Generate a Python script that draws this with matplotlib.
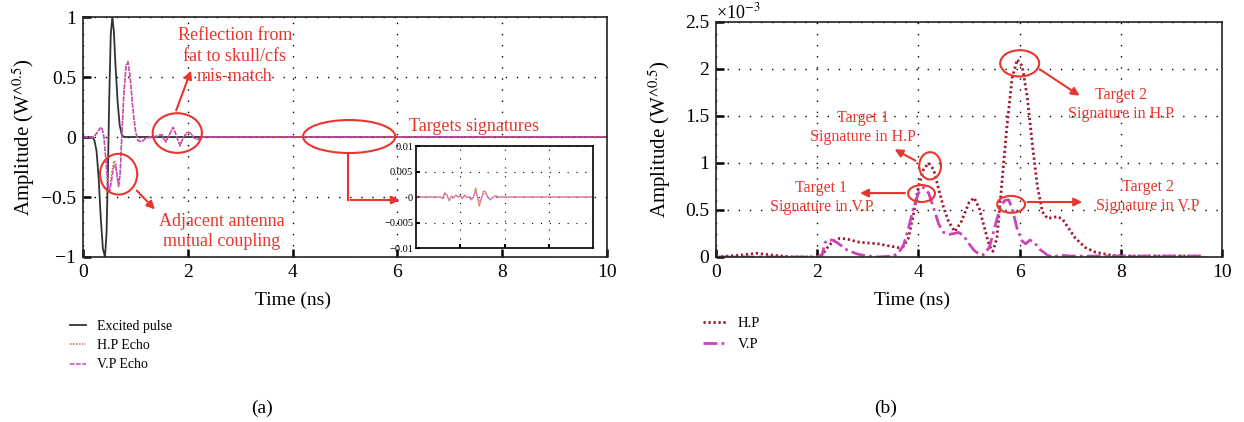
import matplotlib
matplotlib.use("Agg")
import matplotlib.pyplot as plt
from matplotlib.patches import Ellipse
from matplotlib.ticker import FuncFormatter

plt.rcParams['font.family'] = ['Liberation Serif', 'DejaVu Serif']
plt.rcParams['mathtext.fontset'] = 'stix'

RED = '#e8352d'
HP_A = '#c8643c'
VP_A = '#cc44cc'
HP_B = '#a01830'
VP_B = '#cc44bb'

# ---------- panel (a): time-domain pulses ----------
pulse_t = [0, 0.18, 0.22, 0.26, 0.30, 0.34, 0.38, 0.42, 0.45, 0.48, 0.50, 0.53,
           0.56, 0.59, 0.62, 0.66, 0.70, 0.74, 0.78, 10]
pulse_v = [0, 0, -0.03, -0.12, -0.35, -0.68, -0.93, -1.0, -0.8, -0.2, 0.3, 0.85,
           1.0, 0.88, 0.6, 0.3, 0.1, 0.02, 0, 0]

echo_t = [0, 0.2, 0.26, 0.32, 0.36, 0.40, 0.44, 0.48, 0.51, 0.55, 0.59, 0.62,
          0.65, 0.68, 0.71, 0.74, 0.78, 0.82, 0.86, 0.90, 0.95, 1.00, 1.05,
          1.12, 1.2, 1.3, 1.4, 1.5, 1.58, 1.65, 1.72, 1.79, 1.85, 1.92, 2.0,
          2.06, 2.12, 2.2, 2.3, 10]
hp_echo = [0, 0, 0.03, 0.07, 0.08, 0.0, -0.22, -0.42, -0.44, -0.30, -0.20, -0.21,
           -0.33, -0.42, -0.30, 0.0, 0.36, 0.60, 0.63, 0.50, 0.24, 0.05, -0.03,
           -0.04, -0.01, 0, 0.005, 0.025, -0.045, 0.02, 0.085, 0.0, -0.075, 0.0,
           0.045, 0.03, -0.01, -0.02, 0, 0]
vp_echo = [0, 0, 0.03, 0.07, 0.08, 0.0, -0.20, -0.40, -0.45, -0.35, -0.24, -0.23,
           -0.32, -0.40, -0.30, 0.0, 0.35, 0.58, 0.62, 0.50, 0.25, 0.06, -0.03,
           -0.04, -0.01, 0, 0.005, 0.02, -0.04, 0.02, 0.08, 0.0, -0.07, 0.0,
           0.04, 0.03, -0.01, -0.02, 0, 0]

# inset: zoom on target echoes
ins_t = [2, 3.1, 3.2, 3.3, 3.4, 3.5, 3.6, 3.7, 3.8, 3.9, 4.0, 4.1, 4.2, 4.3, 4.4,
         4.5, 4.6, 4.7, 4.78, 4.86, 4.95, 5.05, 5.15, 5.25, 5.35, 5.45, 5.6,
         5.75, 6.0, 10]
ins_hp = [0, 0, -0.0003, 0.0009, 0.0004, -0.0008, 0.0002, -0.0002, 0.0004, 0.0,
          0.0003, -0.0003, 0.0004, -0.0001, 0.0, -0.0006, 0.0, 0.0018, 0.0,
          -0.0018, -0.0005, 0.0012, 0.0010, 0.0, -0.0006, -0.0002, 0.0003, 0.0,
          0, 0]
ins_vp = [0, 0, -0.0002, 0.0006, 0.0003, -0.0006, 0.0001, -0.0001, 0.0003, 0.0,
          0.0002, -0.0002, 0.0003, -0.0001, 0.0, -0.0004, 0.0, 0.0011, 0.0,
          -0.0010, -0.0003, 0.0007, 0.0006, 0.0, -0.0004, -0.0001, 0.0002, 0.0,
          0, 0]

# ---------- panel (b): envelopes ----------
hp_t = [0, 0.5, 0.8, 1.1, 1.5, 2.0, 2.1, 2.2, 2.3, 2.45, 2.6, 2.8, 3.0, 3.2, 3.4,
        3.6, 3.7, 3.8, 3.9, 4.0, 4.1, 4.2, 4.3, 4.4, 4.5, 4.6, 4.72, 4.85, 5.0,
        5.1, 5.2, 5.3, 5.4, 5.47, 5.55, 5.65, 5.75, 5.85, 5.95, 6.05, 6.15,
        6.25, 6.35, 6.45, 6.55, 6.65, 6.75, 6.85, 6.95, 7.1, 7.3, 7.5, 7.8,
        8.0, 9.6]
hp_v = [0, 0.02, 0.04, 0.02, 0, 0, 0.02, 0.10, 0.16, 0.20, 0.19, 0.16, 0.15,
        0.14, 0.12, 0.10, 0.11, 0.20, 0.45, 0.75, 0.93, 1.00, 0.93, 0.72, 0.52,
        0.37, 0.27, 0.38, 0.58, 0.63, 0.52, 0.32, 0.12, 0.06, 0.20, 0.80, 1.40,
        1.90, 2.10, 2.03, 1.70, 1.20, 0.75, 0.48, 0.41, 0.42, 0.43, 0.40, 0.32,
        0.20, 0.10, 0.05, 0.02, 0.01, 0.01]
vp_t = [0, 2.0, 2.1, 2.15, 2.2, 2.3, 2.4, 2.5, 2.6, 2.8, 3.0, 3.2, 3.5, 3.6, 3.7,
        3.8, 3.9, 4.0, 4.1, 4.2, 4.3, 4.4, 4.5, 4.6, 4.7, 4.8, 4.9, 5.0, 5.1,
        5.2, 5.27, 5.4, 5.5, 5.6, 5.7, 5.78, 5.85, 5.95, 6.05, 6.12, 6.2, 6.28,
        6.4, 6.55, 6.65, 6.8, 7.0, 9.6]
vp_v = [0, 0, 0.03, 0.15, 0.18, 0.18, 0.15, 0.11, 0.07, 0.03, 0.01, 0, 0.01,
        0.04, 0.12, 0.30, 0.52, 0.68, 0.74, 0.68, 0.52, 0.35, 0.26, 0.24, 0.25,
        0.26, 0.22, 0.14, 0.07, 0.03, 0.02, 0.10, 0.30, 0.50, 0.60, 0.61, 0.52,
        0.30, 0.17, 0.14, 0.18, 0.16, 0.08, 0.02, 0, 0.02, 0.01, 0.01]
hp_v = [v * 1e-3 for v in hp_v]
vp_v = [v * 1e-3 for v in vp_v]


def fmt(v, pos=None):
    return f'{v:g}'.replace('-', '\u2212')


def style_axes(ax):
    for s in ax.spines.values():
        s.set_linewidth(1.2)
        s.set_color('#222222')
    ax.grid(True, color='black', linestyle=(0, (1, 7)), linewidth=1.0)
    ax.tick_params(direction='in', length=6, width=1.8, labelsize=14, pad=5)


fig = plt.figure(figsize=(12.44, 4.22), dpi=100)

# ---- (a) ----
axa = fig.add_axes([0.0667, 0.391, 0.4212, 0.5687])
axa.plot(pulse_t, pulse_v, color='#333333', lw=1.3, label='Excited pulse')
axa.plot(echo_t, hp_echo, color=HP_A, lw=1.1, ls=(0, (1, 1)), label='H.P Echo')
axa.plot(echo_t, vp_echo, color=VP_A, lw=1.1, ls=(0, (3, 1)), label='V.P Echo')
axa.set_xlim(0, 10)
axa.set_ylim(-1, 1)
axa.set_xticks(range(0, 11, 2))
axa.set_yticks([-1, -0.5, 0, 0.5, 1])
axa.xaxis.set_major_formatter(FuncFormatter(fmt))
axa.yaxis.set_major_formatter(FuncFormatter(fmt))
style_axes(axa)
axa.set_xlabel('Time (ns)', fontsize=14)
axa.xaxis.set_label_coords(0.40, -0.18)
axa.xaxis.label.set_va('center')
axa.set_ylabel('Amplitude (W$^{\\wedge 0.5}$)', fontsize=15)
axa.yaxis.set_label_coords(-0.113, 0.5)
axa.yaxis.label.set_va('center')

# annotations (a)
for (cx, cy, w, h) in [(1.80, 0.033, 0.94, 0.33), (0.68, -0.31, 0.71, 0.34),
                       (5.08, 0.004, 1.76, 0.275)]:
    axa.add_patch(Ellipse((cx, cy), w, h, fill=False, ec=RED, lw=1.5, zorder=5))
arrow = dict(arrowstyle='-|>', color=RED, lw=1.5, mutation_scale=12)
axa.annotate('', xy=(2.08, 0.575), xytext=(1.76, 0.2), arrowprops=arrow)
axa.annotate('', xy=(1.41, -0.62), xytext=(0.99, -0.43), arrowprops=arrow)
axa.plot([5.06, 5.06], [-0.133, -0.525], color=RED, lw=1.5, zorder=5)
axa.annotate('', xy=(6.1, -0.525), xytext=(5.05, -0.525), arrowprops=arrow)
axa.text(2.9, 0.675, 'Reflection from\nfat to skull/cfs\nmis-match', color=RED,
         fontsize=13, ha='center', va='center', linespacing=1.25)
axa.text(2.65, -0.79, 'Adjacent antenna\nmutual coupling', color=RED,
         fontsize=13, ha='center', va='center', linespacing=1.25)
axa.text(6.22, 0.09, 'Targets signatures', color=RED, fontsize=13,
         ha='left', va='center')

axa.legend(loc='upper left', bbox_to_anchor=(0.056, 0.242),
           bbox_transform=fig.transFigure, frameon=False, fontsize=10,
           handlelength=1.2, handletextpad=0.8, labelspacing=0.45,
           borderpad=0, borderaxespad=0)

# inset
axi = fig.add_axes([0.3344, 0.4123, 0.1423, 0.2417])
axi.plot(ins_t, ins_hp, color=HP_A, lw=0.8, alpha=0.8)
axi.plot(ins_t, ins_vp, color='#e070c0', lw=0.9, alpha=0.7)
axi.set_xlim(2, 10)
axi.set_ylim(-0.01, 0.01)
axi.set_xticks([4, 6, 8])
axi.set_xticklabels([])
axi.set_yticks([-0.01, -0.005, 0, 0.005, 0.01])
axi.yaxis.set_major_formatter(FuncFormatter(fmt))
for s in axi.spines.values():
    s.set_linewidth(1.2)
axi.grid(True, color='black', linestyle=(0, (1, 7)), linewidth=0.8)
axi.tick_params(direction='in', length=3, width=1.5, labelsize=7.5, pad=2)

# ---- (b) ----
axb = fig.add_axes([0.5756, 0.391, 0.4068, 0.5569])
axb.plot(hp_t, hp_v, color=HP_B, lw=2.0, ls=(0, (0.8, 1.0)), label='H.P')
axb.plot(vp_t, vp_v, color=VP_B, lw=2.0, ls=(0, (5, 1.5, 1, 1.5)), label='V.P')
axb.set_xlim(0, 10)
axb.set_ylim(0, 2.5e-3)
axb.set_xticks(range(0, 11, 2))
axb.set_yticks([0, 0.5e-3, 1e-3, 1.5e-3, 2e-3, 2.5e-3])
axb.xaxis.set_major_formatter(FuncFormatter(fmt))
axb.yaxis.set_major_formatter(FuncFormatter(lambda v, p: fmt(round(v * 1e3, 3))))
style_axes(axb)
axb.text(0.0, 1.0, '\u00d710$^{\u22123}$', transform=axb.transAxes,
         fontsize=13, ha='left', va='bottom')
axb.set_xlabel('Time (ns)', fontsize=14)
axb.xaxis.set_label_coords(0.387, -0.183)
axb.xaxis.label.set_va('center')
axb.set_ylabel('Amplitude (W$^{\\wedge 0.5}$)', fontsize=15)
axb.yaxis.set_label_coords(-0.112, 0.5)
axb.yaxis.label.set_va('center')

for (cx, cy, w, h) in [(4.23, 0.97e-3, 0.43, 0.29e-3), (4.06, 0.675e-3, 0.53, 0.18e-3),
                       (6.0, 2.06e-3, 0.77, 0.28e-3), (5.83, 0.56e-3, 0.55, 0.18e-3)]:
    axb.add_patch(Ellipse((cx, cy), w, h, fill=False, ec=RED, lw=1.5, zorder=5))
axb.annotate('', xy=(3.48, 1.16e-3), xytext=(3.99, 1.01e-3), arrowprops=arrow)
axb.annotate('', xy=(2.79, 0.68e-3), xytext=(3.79, 0.68e-3), arrowprops=arrow)
axb.annotate('', xy=(7.23, 1.70e-3), xytext=(6.36, 2.01e-3), arrowprops=arrow)
axb.annotate('', xy=(7.29, 0.585e-3), xytext=(6.1, 0.585e-3), arrowprops=arrow)
tb = dict(color=RED, fontsize=11.5, ha='center', va='center', linespacing=1.25)
axb.text(2.90, 1.378e-3, 'Target 1\nSignature in H.P', **tb)
axb.text(2.08, 0.635e-3, 'Target 1\nSignature in V.P', **tb)
axb.text(8.0, 1.62e-3, 'Target 2\nSignature in H.P', **tb)
axb.text(8.53, 0.645e-3, 'Target 2\nSignature in V.P', **tb)

axb.legend(loc='upper left', bbox_to_anchor=(0.5651, 0.250),
           bbox_transform=fig.transFigure, frameon=False, fontsize=10.5,
           handlelength=1.7, handletextpad=0.7, labelspacing=0.55,
           borderpad=0, borderaxespad=0)

fig.text(0.2106, 0.033, '(a)', fontsize=14, ha='center', va='center')
fig.text(0.712, 0.033, '(b)', fontsize=14, ha='center', va='center')

fig.savefig('out.png', dpi=100)
